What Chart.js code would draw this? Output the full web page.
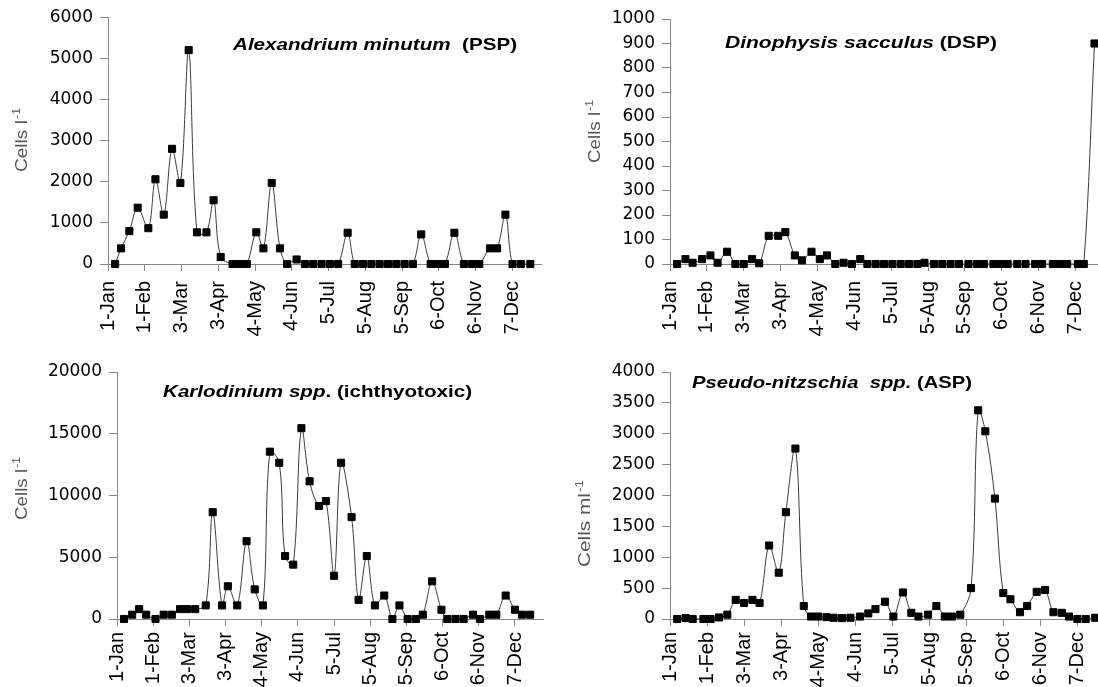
<!DOCTYPE html>
<html>
<head>
<meta charset="utf-8">
<script src="https://cdn.jsdelivr.net/npm/chart.js@4"></script>
<style>
  html, body { margin: 0; padding: 0; background: #fff; overflow: hidden; }
  body { width: 1098px; height: 687px; position: relative; }
  canvas { position: absolute; }
</style>
</head>
<body>
<canvas id="c1" width="560" height="340" style="left:0;top:0"></canvas>
<canvas id="c2" width="560" height="340" style="left:560px;top:0"></canvas>
<canvas id="c3" width="560" height="347" style="left:0;top:340px"></canvas>
<canvas id="c4" width="560" height="347" style="left:560px;top:340px"></canvas>
<script>
// Sampling dates as day of the year (1 Jan = 0) and cell counts per species
const tickDays   = [0, 31, 62, 93, 124, 155, 186, 217, 248, 279, 310, 341];
const tickLabels = ['1-Jan', '1-Feb', '3-Mar', '3-Apr', '4-May', '4-Jun', '5-Jul', '5-Aug', '5-Sep', '6-Oct', '6-Nov', '7-Dec'];

const alexDays = [6,11,18,25,34,40,47,54,61,68,75,83,89,95,105,111,117,125,131,138,145,151,159,166,173,180,187,194,202,208,215,222,229,236,243,250,257,264,272,278,284,292,300,307,313,322,328,335,341,348,356];
const alexVals = [0,380,800,1370,870,2060,1200,2800,1970,5200,770,770,1550,170,0,0,0,770,380,1970,380,0,110,0,0,0,0,0,760,0,0,0,0,0,0,0,0,720,0,0,0,760,0,0,0,380,380,1200,0,0,0];

const dinoDays = [6,13,19,27,34,40,48,55,62,69,75,83,91,97,105,111,119,126,132,139,146,153,160,166,173,180,187,194,201,208,214,222,229,236,243,251,258,264,272,278,284,292,299,307,313,322,328,334,343,348,357];
const dinoVals = [0,20,5,20,35,5,50,0,0,20,3,115,115,130,35,15,50,20,35,0,5,0,20,0,0,0,0,0,0,0,5,0,0,0,0,0,0,0,0,0,0,0,0,0,0,0,0,0,0,0,900];

const karlDays = [6,13,19,25,33,40,47,54,60,67,76,82,90,95,103,111,118,125,131,139,144,151,158,165,173,179,186,192,201,207,214,221,229,236,242,249,256,262,270,278,283,290,297,305,311,319,325,333,341,347,354];
const karlVals = [0,350,800,350,0,350,350,800,800,800,1100,8650,1100,2650,1100,6300,2400,1100,13550,12650,5100,4400,15450,11150,9150,9550,3500,12650,8250,1550,5100,1100,1900,0,1100,0,0,350,3050,750,0,0,0,350,0,350,350,1900,750,350,350];

const pseuDays = [6,13,19,28,34,41,48,55,62,69,75,83,91,97,105,112,118,124,131,137,144,151,159,166,172,180,187,195,202,208,216,223,230,236,243,252,258,264,272,279,285,293,299,307,314,321,328,334,341,348,356];
const pseuVals = [0,15,0,0,0,25,70,310,260,310,260,1190,750,1730,2760,210,40,40,30,20,15,20,40,90,160,280,40,430,100,40,70,210,40,40,70,500,3380,3040,1950,420,320,110,210,440,470,110,100,40,0,0,20];

const FONT = '"Liberation Sans", Arial, sans-serif';

// Species heading inside the plot and the rotated unit label with its superscript
const panelText = {
  id: 'panelText',
  afterDraw(chart, _args, o) {
    const ctx = chart.ctx;
    ctx.save();
    ctx.fillStyle = '#000';
    ctx.textBaseline = 'middle';
    let natural = 0;
    o.heading.forEach(p => { ctx.font = p.font; natural += ctx.measureText(p.text).width; });
    ctx.translate(o.headingX, o.headingY);
    ctx.scale(o.headingWidth / natural, 1);
    let x = 0;
    o.heading.forEach(p => {
      ctx.font = p.font;
      ctx.fillText(p.text, x, 0);
      x += ctx.measureText(p.text).width;
    });
    ctx.restore();

    ctx.save();
    ctx.fillStyle = '#555';
    ctx.textBaseline = 'alphabetic';
    const mainFont = '17px ' + FONT, supFont = '11px ' + FONT;
    ctx.font = mainFont; const w1 = ctx.measureText(o.unit).width;
    ctx.font = supFont;  const w2 = ctx.measureText(o.unitSup).width;
    ctx.translate(o.unitX, o.unitBottom);
    ctx.rotate(-Math.PI / 2);
    ctx.scale(o.unitLength / (w1 + w2 + 1), 1);
    ctx.font = mainFont; ctx.fillText(o.unit, 0, 6);
    ctx.font = supFont;  ctx.fillText(o.unitSup, w1 + 1, -1);
    ctx.restore();
  }
};

const ITALIC = 'italic bold 17px ' + FONT;
const BOLD = 'bold 17px ' + FONT;

function buildPanel(id, origin, days, vals, p) {
  const pts = days.map((d, i) => ({ x: d, y: vals[i] }));
  return new Chart(document.getElementById(id), {
    type: 'line',
    data: {
      datasets: [{
        data: pts,
        borderColor: '#3a3a3a',
        borderWidth: 1,
        tension: 0.35,
        fill: false,
        clip: false,
        pointStyle: 'rect',
        pointRadius: 5,
        pointBorderWidth: 1,
        pointBackgroundColor: '#000',
        pointBorderColor: '#000'
      }]
    },
    options: {
      responsive: false,
      animation: false,
      devicePixelRatio: 1,
      layout: { padding: { top: p.padTop, right: p.padRight, left: 0, bottom: 0 } },
      plugins: {
        legend: { display: false },
        tooltip: { enabled: false },
        panelText: {
          heading: p.heading,
          headingX: p.headingX - origin[0],
          headingY: p.headingY - origin[1],
          headingWidth: p.headingWidth,
          unit: p.unit,
          unitSup: '-1',
          unitX: p.unitX - origin[0],
          unitBottom: p.unitBottom - origin[1],
          unitLength: p.unitLength
        }
      },
      scales: {
        x: {
          type: 'linear',
          min: 0,
          max: 365,
          afterBuildTicks: s => { s.ticks = tickDays.map(v => ({ value: v })); },
          afterFit: s => { s.height = p.xAxisH; },
          ticks: {
            autoSkip: false,
            minRotation: 90,
            maxRotation: 90,
            padding: p.labelPad,
            color: '#000',
            font: { family: FONT, size: 20 },
            callback: (v, i) => tickLabels[i]
          },
          grid: { drawOnChartArea: false, drawTicks: true, tickLength: 7, color: '#888' },
          border: { color: '#888', width: 1 }
        },
        y: {
          min: 0,
          max: p.yMax,
          afterFit: s => { s.width = p.yAxisW; },
          ticks: {
            stepSize: p.yStep,
            padding: 7,
            color: '#000',
            font: { family: '"DejaVu Sans", sans-serif', size: 17 },
            callback: v => String(v)
          },
          grid: { drawOnChartArea: false, drawTicks: true, tickLength: 8, color: '#888' },
          border: { color: '#888', width: 1 }
        }
      }
    },
    plugins: [panelText]
  });
}

buildPanel('c1', [0, 0], alexDays, alexVals, {
  yMax: 6000, yStep: 1000, yAxisW: 108, padTop: 16, padRight: 19, xAxisH: 76, labelPad: 10,
  heading: [{ text: 'Alexandrium minutum', font: ITALIC }, { text: '  (PSP)', font: BOLD }],
  headingX: 233, headingY: 45, headingWidth: 284,
  unit: 'Cells l', unitX: 21, unitBottom: 172, unitLength: 64
});

buildPanel('c2', [560, 0], dinoDays, dinoVals, {
  yMax: 1000, yStep: 100, yAxisW: 110, padTop: 19, padRight: 16, xAxisH: 76, labelPad: 10,
  heading: [{ text: 'Dinophysis sacculus', font: ITALIC }, { text: ' (DSP)', font: BOLD }],
  headingX: 725, headingY: 43, headingWidth: 272,
  unit: 'Cells l', unitX: 594, unitBottom: 163, unitLength: 63
});

buildPanel('c3', [0, 340], karlDays, karlVals, {
  yMax: 20000, yStep: 5000, yAxisW: 117, padTop: 32, padRight: 17, xAxisH: 68, labelPad: 6,
  heading: [{ text: 'Karlodinium spp', font: ITALIC }, { text: '. (ichthyotoxic)', font: BOLD }],
  headingX: 163, headingY: 392, headingWidth: 309,
  unit: 'Cells l', unitX: 21, unitBottom: 520, unitLength: 63
});

buildPanel('c4', [560, 340], pseuDays, pseuVals, {
  yMax: 4000, yStep: 500, yAxisW: 110, padTop: 32, padRight: 14, xAxisH: 68, labelPad: 6,
  heading: [{ text: 'Pseudo-nitzschia  spp.', font: ITALIC }, { text: ' (ASP)', font: BOLD }],
  headingX: 692, headingY: 383, headingWidth: 280,
  unit: 'Cells ml', unitX: 584, unitBottom: 567, unitLength: 87
});
</script>
</body>
</html>
